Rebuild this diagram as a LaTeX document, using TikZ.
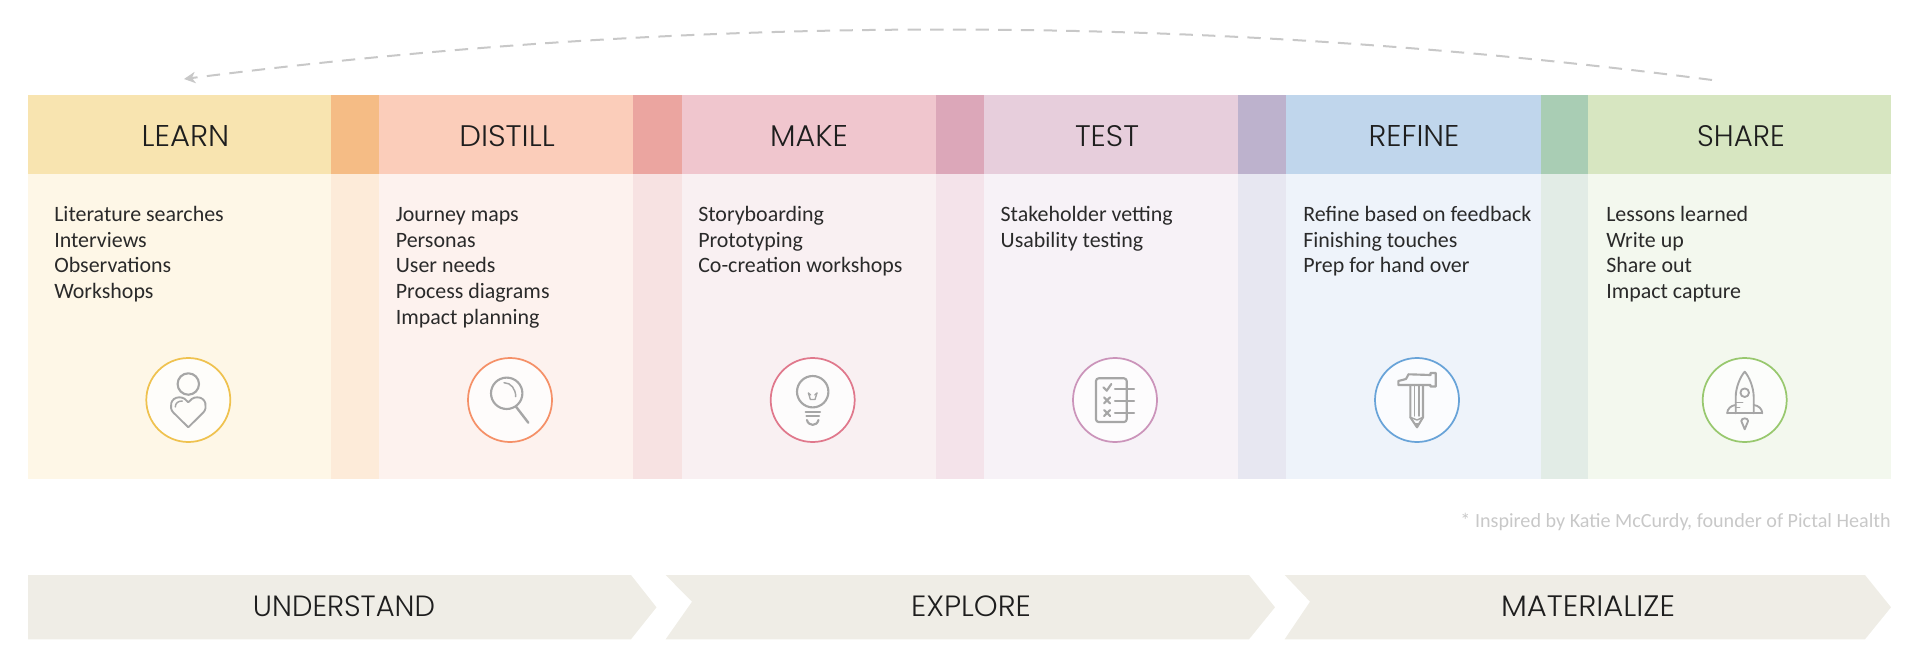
\documentclass[tikz,border=0pt]{standalone}
\usepackage{fontspec}
\usepackage{graphicx}
\usetikzlibrary{arrows.meta}
\setmainfont{Carlito}
\newfontfamily\hdfont{Poppins}[UprightFont=* Light]
\newlength\pxu \pxu=.75pt
\newcommand{\hd}[3]{\resizebox{#1\pxu}{#2\pxu}{\hdfont #3}}
\definecolor{hA}{HTML}{F8E4B0}\definecolor{oA}{HTML}{F5BC85}
\definecolor{hB}{HTML}{FBCDBA}\definecolor{oB}{HTML}{EBA5A0}
\definecolor{hC}{HTML}{F0C6CE}\definecolor{oC}{HTML}{DCA7B9}
\definecolor{hD}{HTML}{E7CEDC}\definecolor{oD}{HTML}{BDB2CD}
\definecolor{hE}{HTML}{C0D6EC}\definecolor{oE}{HTML}{A9CDB4}
\definecolor{hF}{HTML}{D7E6C1}
\definecolor{bA}{HTML}{FEF7E7}\definecolor{pA}{HTML}{FDEBD9}
\definecolor{bB}{HTML}{FDF2EE}\definecolor{pB}{HTML}{F7E2E2}
\definecolor{bC}{HTML}{F9F0F2}\definecolor{pC}{HTML}{F4E3EA}
\definecolor{bD}{HTML}{F7F2F7}\definecolor{pD}{HTML}{E7E7F1}
\definecolor{bE}{HTML}{EEF3FA}\definecolor{pE}{HTML}{E2ECE6}
\definecolor{bF}{HTML}{F3F8EE}
\definecolor{cA}{HTML}{EFC24F}\definecolor{cB}{HTML}{F59067}
\definecolor{cC}{HTML}{E0788C}\definecolor{cD}{HTML}{CB94BA}
\definecolor{cE}{HTML}{68A3D8}\definecolor{cF}{HTML}{98C86E}
\definecolor{band}{HTML}{EFEDE6}\definecolor{ink}{HTML}{1E1E1E}
\definecolor{txt}{HTML}{2A2A2A}\definecolor{icn}{HTML}{A6A6A6}
\definecolor{note}{HTML}{C8C8C8}
\tikzset{
  x=.75pt,y=-.75pt,
  headlabel/.style={inner sep=0pt,anchor=base,text=ink},
  bodylist/.style={inner sep=0pt,anchor=north west,align=left,text=txt,
    font=\fontsize{16.45pt}{19.2pt}\selectfont},
  ring/.style={circle,draw=#1,line width=1.3pt,fill=white,fill opacity=.8,minimum size=63pt,inner sep=0pt},
  icon/.style={draw=icn,line width=1.6pt,line cap=round,line join=round},
  thinicon/.style={draw=icn,line width=1.1pt,line cap=round,line join=round},
}
\newcommand{\first}{\rule{0pt}{15pt}}
\begin{document}
\begin{tikzpicture}
\useasboundingbox (0,0) rectangle (1920,671);
% columns
\foreach \xa/\xb/\h/\b in {28/331/hA/bA,331/378.5/oA/pA,378.5/633/hB/bB,633/682/oB/pB,682/936/hC/bC,936/984/oC/pC,984/1238/hD/bD,1238/1286/oD/pD,1286/1541/hE/bE,1541/1588/oE/pE,1588/1891/hF/bF}{
  \fill[\h] (\xa,94.5) rectangle (\xb,174);
  \fill[\b] (\xa,174) rectangle (\xb,479);
}
% headers
\node[headlabel] (learn) at (185.5,146) {\hd{87.6}{21}{LEARN}};
\node[headlabel] (distill) at (507,146) {\hd{95.5}{21}{DISTILL}};
\node[headlabel] (make) at (809,146) {\hd{77.8}{21}{MAKE}};
\node[headlabel] (test) at (1107,146) {\hd{64}{21}{TEST}};
\node[headlabel] (refine) at (1414,146) {\hd{90.6}{21}{REFINE}};
\node[headlabel] (share) at (1741,146) {\hd{87.6}{21}{SHARE}};
% body lists
\node[bodylist] (l1) at (54,201.5) {\first Literature searches\\Interviews\\Observations\\Workshops};
\node[bodylist] (l2) at (395.6,201.5) {\first Journey maps\\Personas\\User needs\\Process diagrams\\Impact planning};
\node[bodylist] (l3) at (698,201.5) {\first Storyboarding\\Prototyping\\Co-creation workshops};
\node[bodylist] (l4) at (1000.4,201.5) {\first Stakeholder vetting\\Usability testing};
\node[bodylist] (l5) at (1303,201.5) {\first Refine based on feedback\\Finishing touches\\Prep for hand over};
\node[bodylist] (l6) at (1606,201.5) {\first Lessons learned\\Write up\\Share out\\Impact capture};
% rings
\node[ring=cA] (r1) at (188.3,400) {};
\node[ring=cB] (r2) at (510,400) {};
\node[ring=cC] (r3) at (812.7,400) {};
\node[ring=cD] (r4) at (1115,400) {};
\node[ring=cE] (r5) at (1417,400) {};
\node[ring=cF] (r6) at (1744.7,400) {};
% person + heart
\begin{scope}[shift={(r1.center)},x=.75pt,y=-.75pt]
\draw[icon] (0,-16) circle (10.7);
\draw[thinicon,line width=1.4pt] (0,27.3) -- (-15,12.5) .. controls (-19.5,8) and (-18,-2.7) .. (-9,-2.7) .. controls (-5,-2.7) and (-2,-.5) .. (0,2.3) .. controls (2,-.5) and (5,-2.7) .. (9,-2.7) .. controls (18,-2.7) and (19.5,8) .. (15,12.5) -- cycle;
\draw[thinicon] (-13,7) .. controls (-13,3) and (-10,1) .. (-6,1);
\end{scope}
% magnifier
\begin{scope}[shift={(r2.center)},x=.75pt,y=-.75pt]
\draw[icon] (-3.3,-6.7) circle (15.7);
\draw[thinicon] (-6,-17.3) .. controls (1,-17.3) and (5.7,-11) .. (5.7,-3.3);
\draw[icon,line width=1.8pt] (6,6.7) -- (18.3,22.7);
\end{scope}
% bulb
\begin{scope}[shift={(r3.center)},x=.75pt,y=-.75pt]
\draw[icon] (0,-8.3) circle (15.7);
\draw[icon] (-7,11.7) -- (7.3,11.7);
\draw[icon] (-6.3,16.3) -- (6.3,16.3);
\draw[icon] (-5.8,20) .. controls (-4,26.5) and (4,26.5) .. (5.8,20);
\draw[thinicon,line width=1pt] (-4.3,-7) -- (-2.3,-.5) -- (2.3,-.5) -- (4.3,-7);
\draw[thinicon,line width=1pt] (-4.3,-7) -- (-2,-5) (4.3,-7) -- (2,-5);
\end{scope}
% checklist
\begin{scope}[shift={(r4.center)},x=.75pt,y=-.75pt]
\draw[icon,rounded corners=2pt] (-19,-21.7) rectangle (11.7,22);
\draw[icon] (0,-11) -- (19,-11);
\draw[icon] (0,1) -- (19,1);
\draw[icon] (0,13) -- (19,13);
\draw[icon] (-11.7,-12.7) -- (-8.3,-9.3) -- (-3.7,-16);
\draw[icon] (-11,-2.7) -- (-5,3.3) (-11,3.3) -- (-5,-2.7);
\draw[icon] (-11,10) -- (-5,16) (-11,16) -- (-5,10);
\end{scope}
% hammer
\begin{scope}[shift={(r5.center)},x=.75pt,y=-.75pt]
\draw[icon] (-18.7,-15) -- (-18.7,-19) -- (-11,-21) -- (-8.5,-25.7) -- (13.5,-25) -- (13.5,-27) -- (18.7,-27) -- (18.7,-13.5) -- (13.5,-13.5) -- (13.5,-15) -- cycle;
\draw[icon] (-6.7,-14.3) -- (-6.7,17.3) -- (0,27.3) -- (6,17.3) -- (6,-14.3);
\draw[thinicon] (-2.3,-14) -- (-2.3,16) (2,-14) -- (2,16);
\draw[thinicon] (-6.7,17.3) -- (0,20) -- (6,17.3);
\fill[icn] (-3,23) -- (3,23) -- (0,27.3) -- cycle;
\end{scope}
% rocket
\begin{scope}[shift={(r6.center)},x=.75pt,y=-.75pt]
\draw[thinicon,line width=1.4pt] (-9,13.3) -- (-9,-3) .. controls (-9,-13) and (-4,-24) .. (0,-28.3) .. controls (4,-24) and (9,-13) .. (9,-3) -- (9,13.3);
\draw[thinicon,line width=1.4pt] (0,-7.3) circle (4.3);
\draw[thinicon,line width=1.4pt] (-17.5,13.3) -- (17.5,13.3);
\draw[thinicon,line width=1.4pt] (-17.5,13.3) .. controls (-17.5,9) and (-14,5.5) .. (-9,5);
\draw[thinicon,line width=1.4pt] (17.5,13.3) .. controls (17.5,9) and (14,5.5) .. (9,5);
\draw[thinicon] (-9,2.7) -- (-2,2.7) (-9,7.7) -- (-5,7.7);
\draw[thinicon,line width=1.4pt] (0,29.3) -- (-3.4,21) .. controls (-3.4,17.5) and (3.4,17.5) .. (3.4,21) -- cycle;
\end{scope}
% footnote
\node[inner sep=0pt,anchor=base east,text=note,font=\fontsize{15.1pt}{19.2pt}\selectfont] (fn) at (1891,527) {* Inspired by Katie McCurdy, founder of Pictal Health};
% bands
\fill[band] (28,575) -- (631,575) -- (656.5,607.3) -- (631,639.3) -- (28,639.3) -- cycle;
\fill[band] (665.6,575) -- (1249,575) -- (1275,607.3) -- (1249,639.3) -- (665.6,639.3) -- (692,601.7) -- cycle;
\fill[band] (1284.6,575) -- (1865,575) -- (1891,607.3) -- (1865,639.3) -- (1284.6,639.3) -- (1310,601.7) -- cycle;
\node[headlabel] (understand) at (344,616.7) {\hd{182}{20.7}{UNDERSTAND}};
\node[headlabel] (explore) at (971,616.7) {\hd{120}{20.7}{EXPLORE}};
\node[headlabel] (materialize) at (1588,616.7) {\hd{174}{20.7}{MATERIALIZE}};
% return arc
\coordinate (arcfrom) at (1712,80);
\coordinate (arcto) at (184,79);
\draw[note,line width=1.5pt,dash pattern=on 10pt off 7pt,-{Stealth[length=8.5pt,width=8.5pt,inset=2.5pt]}]
  (arcfrom) .. controls (1200,13) and (700,13) .. (arcto);
\end{tikzpicture}
\end{document}
